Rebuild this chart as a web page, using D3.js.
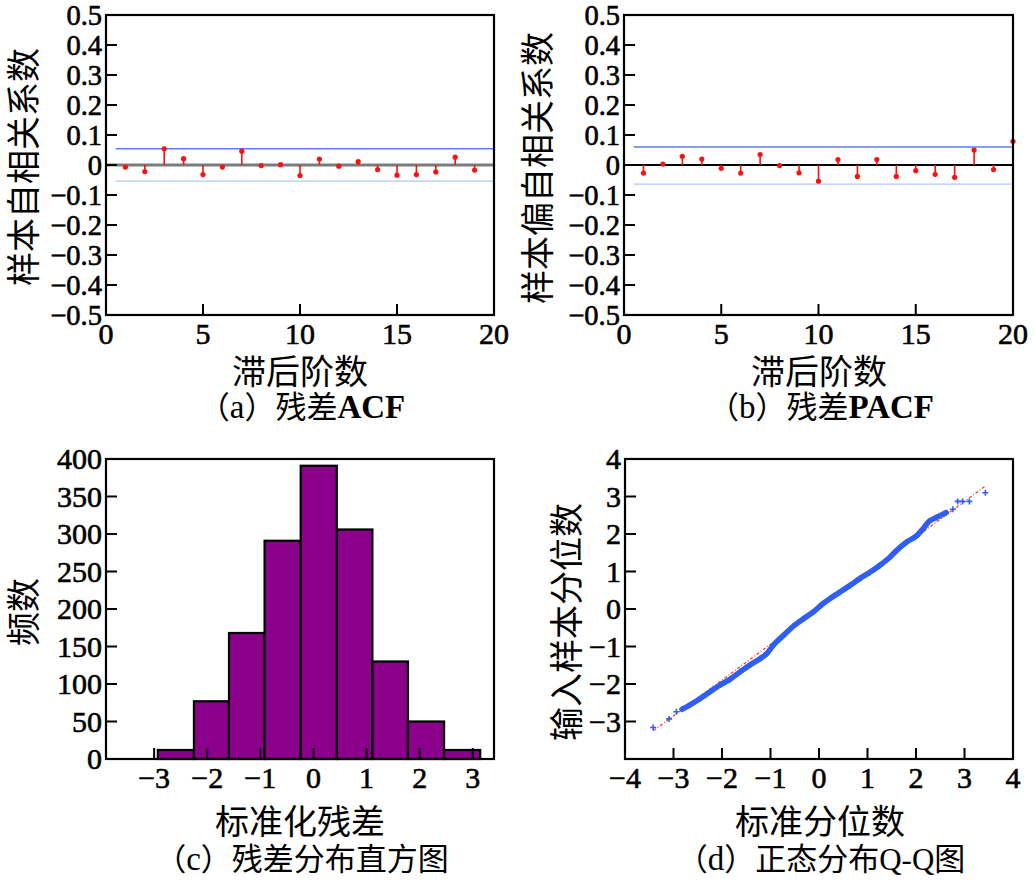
<!DOCTYPE html>
<html><head><meta charset="utf-8">
<script src="https://cdn.jsdelivr.net/npm/d3@7"></script>
<style>body{margin:0;background:#fff}</style>
</head><body>
<svg id="c" width="1035" height="883" xmlns="http://www.w3.org/2000/svg"></svg>
<script>
// ---------- data ----------
const acfLags   = [0,1,2,3,4,5,6,7,8,9,10,11,12,13,14,15,16,17,18,19];
const acfValues = [1,-0.007,-0.022,0.054,0.021,-0.032,-0.007,0.046,-0.002,0.001,-0.035,0.020,-0.004,0.011,-0.015,-0.034,-0.032,-0.023,0.026,-0.017];
const acfBounds = [0.054,-0.054];
const pacfLags   = [1,2,3,4,5,6,7,8,9,10,11,12,13,14,15,16,17,18,19,20];
const pacfValues = [-0.027,0.003,0.029,0.020,-0.011,-0.027,0.035,-0.002,-0.026,-0.054,0.018,-0.038,0.018,-0.038,-0.019,-0.031,-0.041,0.050,-0.015,0.079];
const pacfBounds = [0.060,-0.064];
const lagTicks  = [0,5,10,15,20];
const corrTicks = [-0.5,-0.4,-0.3,-0.2,-0.1,0,0.1,0.2,0.3,0.4,0.5];

const histEdges  = [-2.93,-2.25,-1.59,-0.92,-0.24,0.44,1.11,1.78,2.46,3.14];
const histCounts = [12,77,168,291,391,306,130,50,12];
const histXTicks = [-3,-2,-1,0,1,2,3];
const histYTicks = [0,50,100,150,200,250,300,350,400];

const qqX = [-3.42,-3.09,-2.94,-2.82,-2.65,-2.44,-2.24,-2.03,-1.83,-1.62,-1.42,-1.21,-1.07,-0.94,-0.73,-0.53,-0.32,-0.12,0.06,0.23,0.43,0.64,0.84,1.05,1.25,1.46,1.60,1.80,2.01,2.14,2.28,2.42,2.62,2.76,2.86,2.96,3.10,3.43];
const qqY = [-3.16,-2.93,-2.74,-2.67,-2.55,-2.38,-2.20,-2.02,-1.87,-1.67,-1.49,-1.32,-1.18,-0.96,-0.70,-0.46,-0.26,-0.08,0.12,0.28,0.45,0.63,0.81,0.98,1.16,1.38,1.56,1.78,1.95,2.13,2.35,2.44,2.57,2.66,2.87,2.87,2.87,3.10];
const qqLineX = [-3.41,3.43];
const qqLineY = [-3.24,3.28];
const qqTicks = [-4,-3,-2,-1,0,1,2,3,4];

// ---------- helpers ----------
const svg = d3.select("#c");
const NUM = "'Liberation Serif','Times New Roman',serif";
const CJK = "'Liberation Serif','Noto Sans CJK SC',serif";
const fmt = v => (v < 0 ? "\u2212" : "") + String(Math.abs(v));
const TICK = 11;

function frame(g, x, y) {
  const [x0,x1] = x.range(), [y0,y1] = y.range();
  g.append("rect").attr("x",x0).attr("y",Math.min(y0,y1))
    .attr("width",x1-x0).attr("height",Math.abs(y0-y1))
    .attr("fill","none").attr("stroke","#000").attr("stroke-width",2.2);
}
function numText(sel, size) {
  return sel.attr("font-family",NUM).attr("font-size",size)
    .attr("stroke","#000").attr("stroke-width",0.6).attr("fill","#000");
}
function axes(g, x, y, xt, yt, xfmt, yfmt, opts={}) {
  const [x0] = x.range(), yb = y.range()[0], yt0 = y.range()[1];
  const ySize = opts.ySize || 30;
  g.selectAll(null).data(xt.filter(v => !(opts.noEdgeX && (v===x.domain()[0]||v===x.domain()[1])))).enter()
    .append("line").attr("x1",d=>x(d)).attr("x2",d=>x(d)).attr("y1",yb).attr("y2",yb-TICK)
    .attr("stroke","#000").attr("stroke-width",2);
  numText(g.selectAll(null).data(xt).enter().append("text")
    .attr("x",d=>x(d)).attr("y",yb+29).attr("text-anchor","middle"), 30).text(xfmt);
  g.selectAll(null).data(yt.filter(v => !(opts.noEdgeY && (v===y.domain()[0]||v===y.domain()[1])))).enter()
    .append("line").attr("x1",x0).attr("x2",x0+TICK).attr("y1",d=>y(d)).attr("y2",d=>y(d))
    .attr("stroke","#000").attr("stroke-width",2);
  numText(g.selectAll(null).data(yt.filter(v => !(opts.skipYLabel||[]).includes(v))).enter().append("text")
    .attr("x",x0-4).attr("y",d=>Math.max(y(d)+10, yt0+10)).attr("text-anchor","end"), ySize).text(yfmt);
}
function vlabel(txt, cx, cy, size) {
  svg.append("text").attr("transform",`translate(${cx},${cy}) rotate(-90)`)
    .attr("text-anchor","middle").attr("dominant-baseline","central")
    .attr("font-family",CJK).attr("font-size",size).text(txt);
}
function hlabel(txt, cx, cy, size) {
  svg.append("text").attr("x",cx).attr("y",cy).attr("text-anchor","middle")
    .attr("dominant-baseline","central").attr("font-family",CJK).attr("font-size",size).text(txt);
}
function caption(letter, mid, latin, cx, cy) {
  const t = svg.append("text").attr("x",cx).attr("y",cy).attr("text-anchor","middle")
    .attr("dominant-baseline","central").attr("font-size",31).attr("font-family",CJK);
  t.append("tspan").text("\uFF08");
  t.append("tspan").attr("font-family",NUM).attr("font-size",33).text(letter);
  t.append("tspan").text("\uFF09" + mid);
  if (latin) t.append("tspan").attr("font-family",NUM).attr("font-size",33).attr("font-weight","bold").text(latin);
}

// ---------- stem panel ----------
function stemPanel(id, x0, x1, lags, vals, bounds, zeroStyle) {
  const x = d3.scaleLinear().domain([0,20]).range([x0,x1]);
  const y = d3.scaleLinear().domain([-0.5,0.5]).range([315,15]);
  const g = svg.append("g");
  g.append("clipPath").attr("id",id).append("rect")
    .attr("x",x0).attr("y",15).attr("width",x1-x0+3).attr("height",300);
  const p = g.append("g").attr("clip-path",`url(#${id})`);
  p.append("line").attr("x1",x(0.5)).attr("x2",x(20)).attr("y1",y(bounds[0])).attr("y2",y(bounds[0]))
    .attr("stroke","#5b7ff0").attr("stroke-width",1.6);
  p.append("line").attr("x1",x(0.5)).attr("x2",x(20)).attr("y1",y(bounds[1])).attr("y2",y(bounds[1]))
    .attr("stroke","#b4c6fb").attr("stroke-width",1.3);
  if (zeroStyle === "grey") {
    p.append("line").attr("x1",x0).attr("x2",x1).attr("y1",y(0)).attr("y2",y(0))
      .attr("stroke","#a4a9a6").attr("stroke-width",3.5);
    p.append("line").attr("x1",x0).attr("x2",x1).attr("y1",y(0)).attr("y2",y(0))
      .attr("stroke","#4d4f4e").attr("stroke-width",1);
  } else {
    p.append("line").attr("x1",x0).attr("x2",x1).attr("y1",y(0)).attr("y2",y(0))
      .attr("stroke","#000").attr("stroke-width",2.2);
  }
  const pairs = lags.map((l,i)=>[l,vals[i]]);
  p.selectAll(null).data(pairs).enter().append("line")
    .attr("x1",d=>x(d[0])).attr("x2",d=>x(d[0])).attr("y1",y(0)).attr("y2",d=>y(d[1]))
    .attr("stroke","#ff1010").attr("stroke-width",1.6)
    .attr("opacity",d=>d[0]===0?0.35:1);
  p.selectAll(null).data(pairs.filter(d=>d[0]!==0)).enter().append("circle")
    .attr("cx",d=>x(d[0])).attr("cy",d=>y(d[1])).attr("r",2.6).attr("fill","#ff1010");
  frame(g, x, y);
  axes(g, x, y, lagTicks, corrTicks, d=>String(d), fmt, {noEdgeX:true, noEdgeY:true, ySize:28.5});
}
stemPanel("clipA", 106, 494, acfLags, acfValues, acfBounds, "grey");
stemPanel("clipB", 624, 1013, pacfLags, pacfValues, pacfBounds, "black");
vlabel("样本自相关系数", 24, 167, 34);
vlabel("样本偏自相关系数", 538, 168, 34);
hlabel("滞后阶数", 300, 372, 34);
hlabel("滞后阶数", 819, 372, 34);
caption("a", "残差", "ACF", 302, 407);
caption("b", "残差", "PACF", 821, 407);

// ---------- histogram ----------
{
  const x = d3.scaleLinear().domain([-3.906,3.40]).range([106,494]);
  const y = d3.scaleLinear().domain([0,400]).range([759,459]);
  const g = svg.append("g");
  g.selectAll(null).data(histCounts).enter().append("rect")
    .attr("x",(d,i)=>x(histEdges[i])).attr("width",(d,i)=>x(histEdges[i+1])-x(histEdges[i]))
    .attr("y",d=>y(d)).attr("height",d=>y(0)-y(d))
    .attr("fill","#8b008b").attr("stroke","#000").attr("stroke-width",2.2);
  frame(g, x, y);
  axes(g, x, y, histXTicks, histYTicks, fmt, d=>String(d), {noEdgeY:true});
}
vlabel("频数", 24, 612, 34);
hlabel("标准化残差", 300, 822, 34);
caption("c", "残差分布直方图", "", 302, 859);

// ---------- Q-Q plot ----------
{
  const x = d3.scaleLinear().domain([-4,4]).range([625,1013]);
  const y = d3.scaleLinear().domain([-4,4]).range([759,459]);
  const g = svg.append("g");
  g.append("line").attr("x1",x(qqLineX[0])).attr("y1",y(qqLineY[0]))
    .attr("x2",x(qqLineX[1])).attr("y2",y(qqLineY[1]))
    .attr("stroke","#ff3030").attr("stroke-width",1.2).attr("stroke-dasharray","3,2,1,2");
  const pts = qqX.map((v,i)=>[v,qqY[i]]);
  const dense = pts.filter(d => d[0] > -2.9 && d[0] < 2.7);
  g.append("path").datum(dense)
    .attr("d", d3.line().x(d=>x(d[0])).y(d=>y(d[1])).curve(d3.curveMonotoneX))
    .attr("fill","none").attr("stroke","#2f5ef6").attr("stroke-width",5.5).attr("stroke-linecap","round");
  const s = 3;
  g.selectAll(null).data(pts).enter().append("path")
    .attr("d",d=>`M${x(d[0])-s},${y(d[1])}H${x(d[0])+s}M${x(d[0])},${y(d[1])-s}V${y(d[1])+s}`)
    .attr("stroke","#2f5ef6").attr("stroke-width",1.6);
  frame(g, x, y);
  axes(g, x, y, qqTicks, qqTicks, fmt, fmt, {noEdgeX:true, noEdgeY:true, skipYLabel:[-4]});
}
vlabel("输入样本分位数", 567, 622, 34);
hlabel("标准分位数", 820, 822, 34);
caption("d", "正态分布Q-Q图", "", 821, 859);
</script>
</body></html>
